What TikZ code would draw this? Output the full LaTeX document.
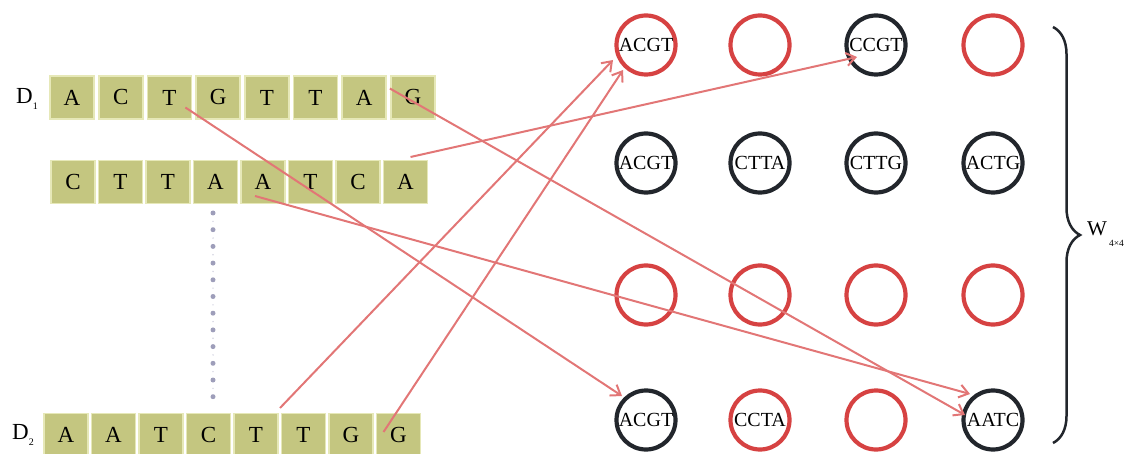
\documentclass[tikz,border=0pt]{standalone}
\usepackage{fontspec}
\setmainfont{Liberation Serif}
\usetikzlibrary{arrows.meta,decorations.pathreplacing,calc}
\definecolor{boxfill}{RGB}{196,198,128}
\definecolor{boxedge}{RGB}{230,232,184}
\definecolor{ringred}{RGB}{214,66,66}
\definecolor{ringdark}{RGB}{34,38,44}
\definecolor{linkred}{RGB}{226,118,118}
\definecolor{dotgray}{RGB}{158,158,186}
\begin{document}
\begin{tikzpicture}[x=1pt,y=-1pt,
  base/.style={draw=boxedge, line width=1.6pt, fill=boxfill,
    minimum width=44pt, minimum height=43pt, inner sep=0pt,
    font=\fontsize{23}{23}\selectfont},
  ring/.style={circle, line width=4.2pt, minimum size=59pt, inner sep=0pt,
    font=\fontsize{20}{20}\selectfont},
  redring/.style={ring, draw=ringred},
  darkring/.style={ring, draw=ringdark},
  link/.style={draw=linkred, line width=2pt,
    -{Straight Barb[length=9pt,width=13pt,line width=2pt]}},
  tag/.style={font=\fontsize{23}{23}\selectfont, inner sep=0pt}]
\useasboundingbox (0,0) rectangle (1126,454);

% sequence D1
\foreach \c [count=\i] in {A,C,T,G,T,T,A,G}
  \node[base] (a\i) at ({72+48.7*(\i-1)}, 97.5) {\c};
% second sequence
\foreach \c [count=\i] in {C,T,T,A,A,T,C,A}
  \node[base] (b\i) at ({73+47.5*(\i-1)}, 182) {\c};
% sequence D2
\foreach \c [count=\i] in {A,A,T,C,T,T,G,G}
  \node[base] (c\i) at ({66+47.5*(\i-1)}, 435) {\c};

\node[tag] (d1) at (27,99) {D\raisebox{-0.5ex}{\fontsize{10}{10}\selectfont 1}};
\node[tag] (d2) at (23,435) {D\raisebox{-0.5ex}{\fontsize{10}{10}\selectfont 2}};

% vertical ellipsis between the sequences
\draw[dotgray!45, line width=1.6pt, line cap=round,
  dash pattern=on 0pt off 16.7pt, dash phase=-8.35pt] (213,213) -- (213,397);
\draw[dotgray, line width=5pt, line cap=round,
  dash pattern=on 0pt off 16.7pt] (213,213) -- (213,398);

% 4x4 grid of cells
\node[redring]  (m11) at (646,45)  {ACGT};
\node[redring]  (m12) at (760,45)  {};
\node[darkring] (m13) at (876,45)  {CCGT};
\node[redring]  (m14) at (993,45)  {};
\node[darkring] (m21) at (646,163) {ACGT};
\node[darkring] (m22) at (760,163) {CTTA};
\node[darkring] (m23) at (876,163) {CTTG};
\node[darkring] (m24) at (993,163) {ACTG};
\node[redring]  (m31) at (646,295) {};
\node[redring]  (m32) at (760,295) {};
\node[redring]  (m33) at (876,295) {};
\node[redring]  (m34) at (993,295) {};
\node[darkring] (m41) at (646,420) {ACGT};
\node[redring]  (m42) at (760,420) {CCTA};
\node[redring]  (m43) at (876,420) {};
\node[darkring] (m44) at (993,420) {AATC};

% mappings from sequence windows to cells
\draw[link] ($(a3)+(16,10)$)  -- ($(m41)+(-24,-24)$);
\draw[link] ($(a8)+(-23,-9)$) -- ($(m44)+(-28,-5)$);
\draw[link] ($(b5)+(-8,14)$)  -- ($(m44)+(-23,-26)$);
\draw[link] ($(b8)+(5,-25)$)  -- ($(m13)+(-19,12)$);
\draw[link] ($(c5)+(24,-27)$) -- ($(m11)+(-33,15)$);
\draw[link] ($(c8)+(-15,-3)$) -- ($(m11)+(-23,25)$);

% brace over the grid
\coordinate (bt) at (1053,27);
\coordinate (bb) at (1053,443);
\draw[ringdark, line width=2.5pt, decorate,
  decoration={brace, amplitude=27pt}] (bt) -- (bb);
\node[anchor=west, inner sep=0pt, font=\fontsize{21}{21}\selectfont] (w) at (1087,234)
  {W\hspace{2pt}\raisebox{-1.2ex}{\fontsize{9.5}{9.5}\selectfont 4×4}};
\end{tikzpicture}
\end{document}
